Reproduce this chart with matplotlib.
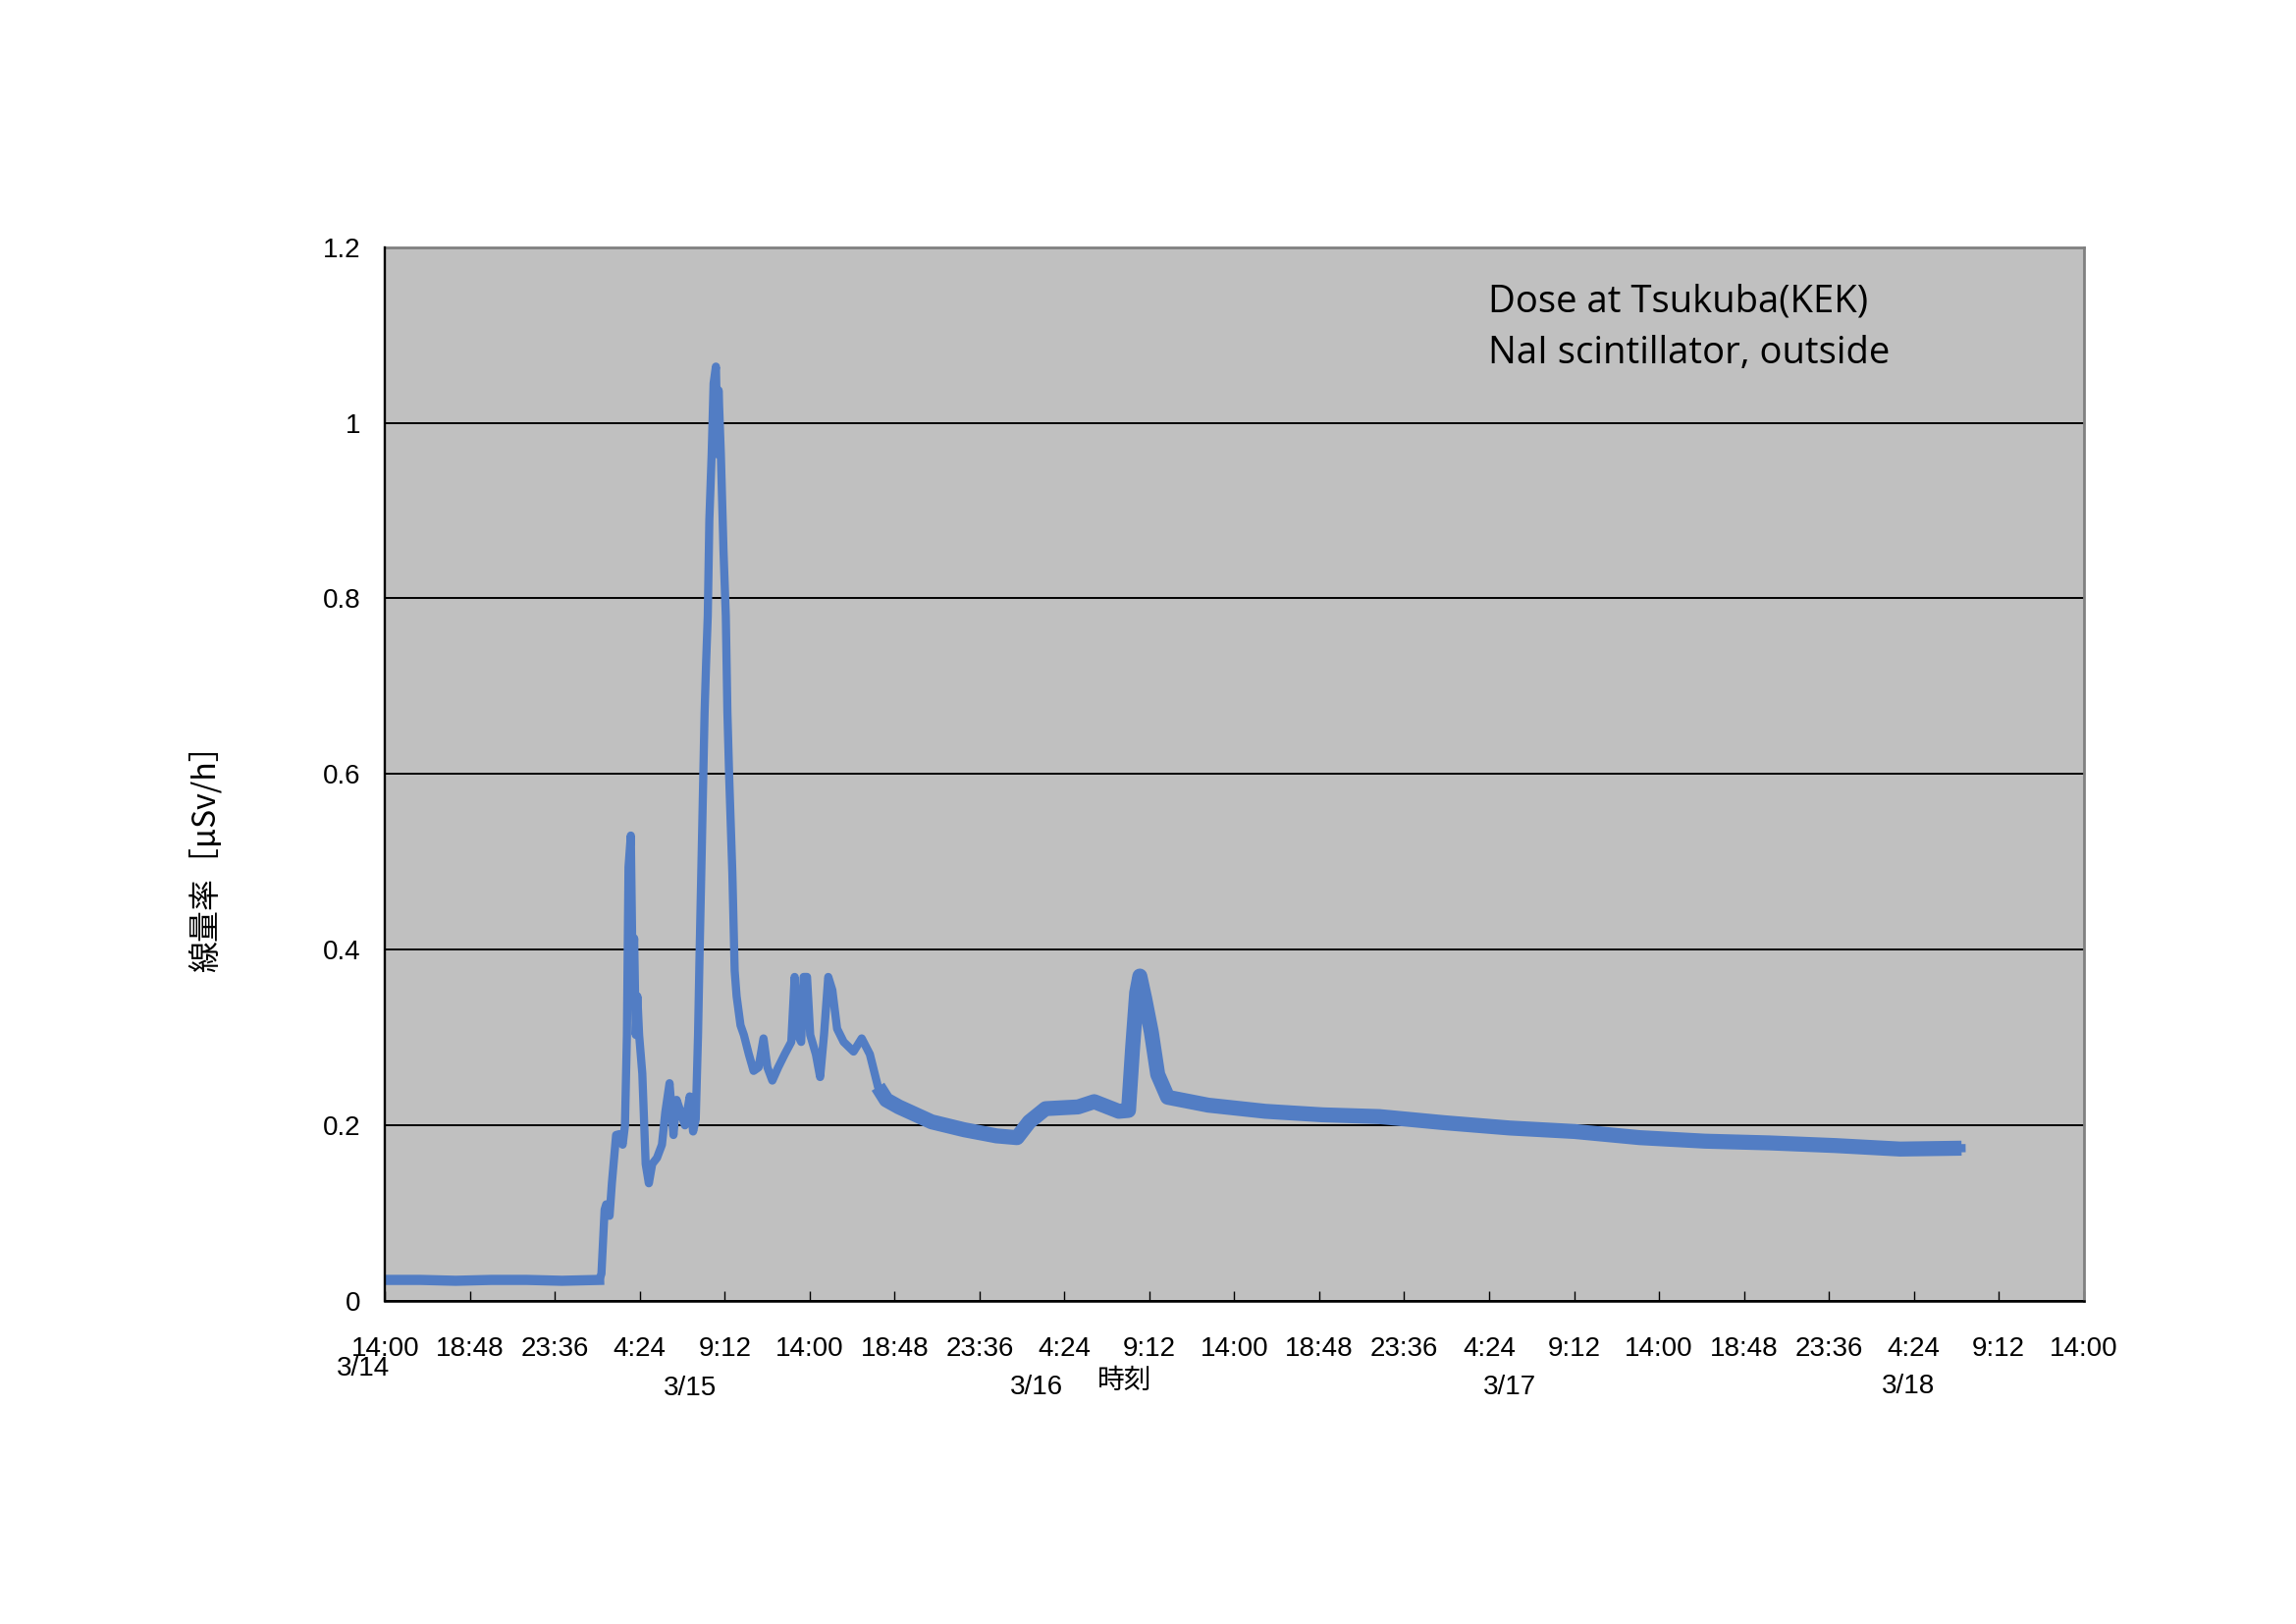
import numpy as np
from matplotlib import pyplot as plt

# time axis: hours after 3/14 14:00, dose rate in uSv/h
# baseline and first plume (3/15 early morning)
hA = [0, 2, 4, 6, 8, 10, 12.1, 12.23, 12.41, 12.5, 12.69, 12.82, 13.06, 13.25, 13.43,
      13.56, 13.67, 13.76, 13.89, 13.99, 14.08, 14.17, 14.26, 14.36, 14.54, 14.73, 14.91,
      15.1, 15.37, 15.65, 15.84, 16.08, 16.3, 16.48, 16.71, 16.95, 17.22, 17.41, 17.56]
vA = [0.024, 0.024, 0.023, 0.024, 0.024, 0.023, 0.024, 0.031, 0.104, 0.11, 0.097, 0.134, 0.189, 0.19, 0.178,
      0.2, 0.303, 0.494, 0.53, 0.376, 0.413, 0.303, 0.347, 0.303, 0.259, 0.156, 0.134,
      0.156, 0.163, 0.178, 0.215, 0.248, 0.189, 0.229, 0.215, 0.2, 0.233, 0.193, 0.207]
# main peak (3/15 ~ 9:00) and the bumps after it
hB = [17.69, 17.78, 17.91, 18.06, 18.15, 18.24, 18.33, 18.46, 18.57, 18.7, 18.8, 18.85,
      18.98, 19.13, 19.26, 19.35, 19.45, 19.63, 19.76, 19.87, 20.09, 20.28, 20.56, 20.83,
      21.11, 21.39, 21.61, 21.89, 22.22, 22.59, 22.96, 23.15, 23.33, 23.52, 23.66, 23.85,
      24.03, 24.35, 24.59, 24.81, 25.05, 25.28, 25.55, 25.92, 26.48, 26.94, 27.4]
vB = [0.303, 0.398, 0.523, 0.67, 0.729, 0.78, 0.89, 0.964, 1.045, 1.064, 0.964, 1.037,
      0.964, 0.854, 0.78, 0.67, 0.597, 0.487, 0.376, 0.347, 0.314, 0.303, 0.281, 0.262,
      0.266, 0.299, 0.266, 0.251, 0.266, 0.281, 0.295, 0.369, 0.303, 0.295, 0.369, 0.369,
      0.303, 0.281, 0.255, 0.303, 0.369, 0.354, 0.31, 0.295, 0.284, 0.299, 0.281]
# slow decay, small peak 3/16 morning
hC = [27.86, 28.33, 29.04, 30.89, 32.73, 34.56, 35.72, 36.41, 37.33, 39.17, 40.08, 41.47,
      42.02, 42.25, 42.48, 42.66, 42.94, 43.31, 43.67, 44.23, 46.52, 49.75, 52.97, 56.19,
      59.87, 63.55, 67.23, 70.91, 74.59, 78.27, 81.95, 85.63, 89.1]
vC = [0.244, 0.229, 0.221, 0.204, 0.195, 0.188, 0.186, 0.204, 0.219, 0.221, 0.227, 0.216,
      0.217, 0.288, 0.351, 0.37, 0.344, 0.306, 0.258, 0.232, 0.223, 0.216, 0.212, 0.210,
      0.203, 0.197, 0.193, 0.186, 0.182, 0.180, 0.177, 0.173, 0.174]

xticklabels = ['14:00', '18:48', '23:36', '4:24', '9:12'] * 4 + ['14:00']
yticks = [0, 0.2, 0.4, 0.6, 0.8, 1.0, 1.2]
yticklabels = ['0', '0.2', '0.4', '0.6', '0.8', '1', '1.2']
dates = ['3/14', '3/15', '3/16', '3/17', '3/18']
date_x = [-1.24, 17.25, 36.8, 63.58, 86.08]   # where the date boxes sit (hours)
date_y = [-0.064, -0.083, -0.082, -0.082, -0.081]

h = np.array(hA + hB + hC); v = np.array(vA + vB + vC)
blue = '#527DC4'
tick_font = ['Liberation Sans', 'DejaVu Sans']
jp_font = ['Noto Sans CJK JP', 'DejaVu Sans']

fig = plt.figure(figsize=(23.39, 16.54), dpi=100)
ax = fig.add_axes([0.1677, 0.1989, 0.7398, 0.6489])
ax.set_facecolor('#C0C0C0')

ax.plot(h, v, color=blue, lw=6, solid_joinstyle='round', zorder=3)
base = h <= 12.1
ax.plot(h[base], v[base], color=blue, lw=7.5, zorder=3)
tail = h >= 27.8   # noisy part shows as a wider band
ax.plot(h[tail], v[tail], color=blue, lw=11, solid_joinstyle='round',
        solid_capstyle='butt', zorder=3)

ax.set_xlim(0, 96); ax.set_ylim(0, 1.2)
ax.set_xticks(np.arange(0, 96.1, 4.8))
ax.set_xticklabels(xticklabels, family=tick_font, fontsize=20)
ax.set_yticks(yticks)
ax.set_yticklabels(yticklabels, family=tick_font, fontsize=20)
ax.tick_params(axis='x', direction='in', length=7, width=1, pad=26, colors='black')
ax.tick_params(axis='y', length=0, pad=18)
ax.yaxis.grid(True, color='black', lw=1.4)
ax.set_axisbelow(True)

for s in ['top', 'right']:
    ax.spines[s].set_color('#808080'); ax.spines[s].set_linewidth(2)
ax.spines['left'].set_linewidth(1.7); ax.spines['bottom'].set_linewidth(1.8)
ax.spines['left'].set_zorder(4); ax.spines['bottom'].set_zorder(4)

tr = ax.get_xaxis_transform()
for d, x, y in zip(dates, date_x, date_y):
    ax.text(x, y, d, transform=tr, ha='center', va='center', family=tick_font,
            fontsize=20, clip_on=False)
ax.text(41.8, -0.075, '時刻', transform=tr, ha='center', va='center',
        family=jp_font, fontsize=20, clip_on=False)

fig.text(209 / 2339, 1 - 866 / 1654, '線量率［μSv/h］', rotation=90, ha='center',
         va='center', family=jp_font, fontsize=23)

# annotation box text (two lines, as in the sheet)
ax.text(0.6495, 0.939, 'Dose at Tsukuba(KEK)', transform=ax.transAxes,
        family=['Open Sans', 'DejaVu Sans'], fontsize=27.5, va='baseline')
ax.text(0.6495, 0.890, 'NaI scintillator, outside', transform=ax.transAxes,
        family=['Open Sans', 'DejaVu Sans'], fontsize=27.5, va='baseline')

plt.savefig('out.png', dpi=100, facecolor='white')
